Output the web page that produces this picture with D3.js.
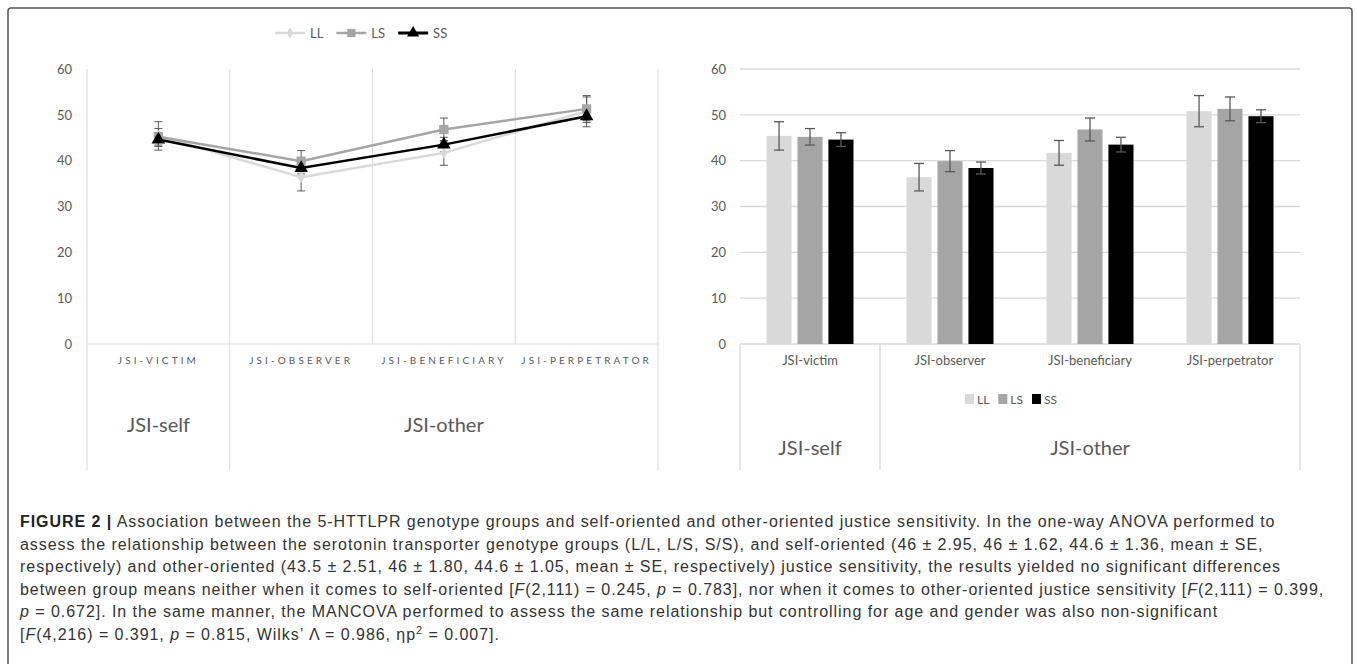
<!DOCTYPE html>
<html>
<head>
<meta charset="utf-8">
<script src="https://cdn.jsdelivr.net/npm/d3@7"></script>
<style>
  body { margin: 0; background: #fff; }
  svg { display: block; }
</style>
</head>
<body>
<script>
// categories and groups
const categories = ['JSI-victim', 'JSI-observer', 'JSI-beneficiary', 'JSI-perpetrator'];
const groups = ['LL', 'LS', 'SS'];
// group means per category
const meanLL = [45.4, 36.4, 41.7, 50.8];
const meanLS = [45.2, 39.9, 46.8, 51.3];
const meanSS = [44.6, 38.4, 43.5, 49.7];
// standard errors (error bar half length)
const seLL = [3.1, 3.0, 2.7, 3.4];
const seLS = [1.8, 2.3, 2.5, 2.6];
const seSS = [1.5, 1.3, 1.6, 1.4];
const yTicks = [0, 10, 20, 30, 40, 50, 60];
// upper level of the category axis
const dimNames = ['JSI-self', 'JSI-other'];
const dimFirst = ['JSI-victim', 'JSI-observer'];
const dimLast = ['JSI-victim', 'JSI-perpetrator'];

const colors = {LL: '#d9d9d9', LS: '#a5a5a5', SS: '#000000'};
const means = {LL: meanLL, LS: meanLS, SS: meanSS};
const ses = {LL: seLL, LS: seLS, SS: seSS};

const series = groups.map(g => ({
  key: g,
  values: categories.map((c, i) => ({cat: c, mean: means[g][i], se: ses[g][i]}))
}));

const width = 1357, height = 664;
const chartFont = 'Lato, "Open Sans", sans-serif';
const textGrey = '#595959';
const gridGrey = '#d9d9d9';

const svg = d3.select('body')
  .append('svg')
  .attr('width', width)
  .attr('height', height);

// outer frame
svg.append('rect')
  .attr('x', 8).attr('y', 8)
  .attr('width', 1344).attr('height', 670)
  .attr('rx', 3)
  .attr('fill', 'none')
  .attr('stroke', '#555')
  .attr('stroke-width', 1.5);

// shared y scale
const y = d3.scaleLinear().domain([0, 60]).range([344, 69]);
const bottomY = 470;

// ---------- left chart: lines ----------
const xL = d3.scaleBand().domain(categories).range([87, 658]);
const left = svg.append('g');

// vertical gridlines at band edges
const edgesL = categories.map(c => xL(c)).concat([xL.range()[1]]);
left.append('g')
  .selectAll('line')
  .data(edgesL)
  .join('line')
  .attr('x1', d => d).attr('x2', d => d)
  .attr('y1', y(60))
  .attr('y2', (d, i) => (i === 0 || i === 1 || i === edgesL.length - 1) ? bottomY : y(0))
  .attr('stroke', gridGrey);

// baseline
left.append('line')
  .attr('x1', xL.range()[0]).attr('x2', xL.range()[1])
  .attr('y1', y(0)).attr('y2', y(0))
  .attr('stroke', gridGrey);

// y axis labels
left.append('g')
  .attr('transform', `translate(${xL.range()[0]},0)`)
  .call(d3.axisLeft(y).tickValues(yTicks).tickSize(0).tickPadding(15))
  .call(g => g.select('.domain').remove())
  .selectAll('text')
  .style('font-family', chartFont)
  .style('font-size', '13px')
  .attr('fill', textGrey);

// category labels (spaced capitals)
left.append('g')
  .attr('transform', `translate(0,${y(0)})`)
  .call(d3.axisBottom(xL).tickSize(0).tickPadding(13).tickFormat(d => d.toUpperCase()))
  .call(g => g.select('.domain').remove())
  .selectAll('text')
  .style('font-family', chartFont)
  .style('font-size', '10px')
  .style('letter-spacing', '3.1px')
  .attr('fill', textGrey);

// upper level labels
left.append('g')
  .selectAll('text')
  .data(dimNames)
  .join('text')
  .attr('x', (d, i) => (xL(dimFirst[i]) + xL(dimLast[i]) + xL.bandwidth()) / 2)
  .attr('y', 432)
  .attr('text-anchor', 'middle')
  .style('font-family', chartFont)
  .style('font-size', '20px')
  .attr('fill', textGrey)
  .text(d => d);

// error bars
const capL = 4;
series.forEach(s => {
  const eb = left.append('g').attr('stroke', textGrey).attr('stroke-width', 1);
  s.values.forEach(v => {
    const cx = xL(v.cat) + xL.bandwidth() / 2;
    eb.append('line').attr('x1', cx).attr('x2', cx).attr('y1', y(v.mean - v.se)).attr('y2', y(v.mean + v.se));
    eb.append('line').attr('x1', cx - capL).attr('x2', cx + capL).attr('y1', y(v.mean + v.se)).attr('y2', y(v.mean + v.se));
    eb.append('line').attr('x1', cx - capL).attr('x2', cx + capL).attr('y1', y(v.mean - v.se)).attr('y2', y(v.mean - v.se));
  });
});

// lines and markers
const lineGen = d3.line()
  .x(d => xL(d.cat) + xL.bandwidth() / 2)
  .y(d => y(d.mean));

const markerSym = {LL: d3.symbolDiamond, LS: d3.symbolSquare, SS: d3.symbolTriangle};
const markerSize = {LL: 45, LS: 85, SS: 80};
const lineW = {LL: 2.5, LS: 2.5, SS: 2.5};

series.forEach(s => {
  left.append('path')
    .datum(s.values)
    .attr('d', lineGen)
    .attr('fill', 'none')
    .attr('stroke', colors[s.key])
    .attr('stroke-width', lineW[s.key]);
  left.append('g')
    .selectAll('path')
    .data(s.values)
    .join('path')
    .attr('transform', d => `translate(${xL(d.cat) + xL.bandwidth() / 2},${y(d.mean)})`)
    .attr('d', d3.symbol().type(markerSym[s.key]).size(markerSize[s.key]))
    .attr('fill', colors[s.key]);
});

// legend for line chart
const legL = left.append('g').attr('transform', 'translate(275,33)');
let lx = 0;
groups.forEach(g => {
  const item = legL.append('g').attr('transform', `translate(${lx},0)`);
  item.append('line')
    .attr('x1', 0).attr('x2', 30)
    .attr('stroke', colors[g])
    .attr('stroke-width', g === 'SS' ? 3 : 2.5);
  item.append('path')
    .attr('transform', 'translate(15,0)')
    .attr('d', d3.symbol().type(markerSym[g]).size(markerSize[g] * 0.8))
    .attr('fill', colors[g]);
  const t = item.append('text')
    .attr('x', 35).attr('y', 4.5)
    .style('font-family', chartFont)
    .style('font-size', '13px')
    .attr('fill', textGrey)
    .text(g);
  lx += 35 + t.node().getComputedTextLength() + 13;
});

// ---------- right chart: grouped bars ----------
const xR = d3.scaleBand().domain(categories).range([740, 1300]);
const groupW = 87;
const xInner = d3.scaleBand().domain(groups).range([0, groupW]).paddingInner(0.19);
const right = svg.append('g');

// horizontal gridlines
right.append('g')
  .selectAll('line')
  .data(yTicks)
  .join('line')
  .attr('x1', xR.range()[0]).attr('x2', xR.range()[1])
  .attr('y1', d => y(d)).attr('y2', d => y(d))
  .attr('stroke', gridGrey)
  .attr('stroke-width', 1.3);

// separators in the category axis
const sepR = [xR(dimFirst[0]), xR(dimFirst[1]), xR.range()[1]];
right.append('g')
  .selectAll('line')
  .data(sepR)
  .join('line')
  .attr('x1', d => d).attr('x2', d => d)
  .attr('y1', y(0)).attr('y2', bottomY)
  .attr('stroke', gridGrey)
  .attr('stroke-width', 1.3);

// y axis labels
right.append('g')
  .attr('transform', `translate(${xR.range()[0]},0)`)
  .call(d3.axisLeft(y).tickValues(yTicks).tickSize(0).tickPadding(14))
  .call(g => g.select('.domain').remove())
  .selectAll('text')
  .style('font-family', chartFont)
  .style('font-size', '13px')
  .attr('fill', textGrey);

// bars
const barG = right.append('g')
  .selectAll('g')
  .data(categories)
  .join('g')
  .attr('transform', c => `translate(${xR(c) + (xR.bandwidth() - groupW) / 2},0)`);

barG.selectAll('rect')
  .data((c, i) => groups.map(g => ({g: g, mean: means[g][i], se: ses[g][i]})))
  .join('rect')
  .attr('x', d => xInner(d.g))
  .attr('y', d => y(d.mean))
  .attr('width', xInner.bandwidth())
  .attr('height', d => y(0) - y(d.mean))
  .attr('fill', d => colors[d.g]);

// bar error bars
const capR = 5;
barG.selectAll('g.err')
  .data((c, i) => groups.map(g => ({g: g, mean: means[g][i], se: ses[g][i]})))
  .join('g')
  .attr('class', 'err')
  .attr('stroke', textGrey)
  .attr('stroke-width', 1.3)
  .each(function(d) {
    const cx = xInner(d.g) + xInner.bandwidth() / 2;
    const sel = d3.select(this);
    sel.append('line').attr('x1', cx).attr('x2', cx).attr('y1', y(d.mean - d.se)).attr('y2', y(d.mean + d.se));
    sel.append('line').attr('x1', cx - capR).attr('x2', cx + capR).attr('y1', y(d.mean + d.se)).attr('y2', y(d.mean + d.se));
    sel.append('line').attr('x1', cx - capR).attr('x2', cx + capR).attr('y1', y(d.mean - d.se)).attr('y2', y(d.mean - d.se));
  });

// category labels
right.append('g')
  .attr('transform', `translate(0,${y(0)})`)
  .call(d3.axisBottom(xR).tickSize(0).tickPadding(12))
  .call(g => g.select('.domain').remove())
  .selectAll('text')
  .style('font-family', chartFont)
  .style('font-size', '13px')
  .attr('fill', textGrey);

// upper level labels
right.append('g')
  .selectAll('text')
  .data(dimNames)
  .join('text')
  .attr('x', (d, i) => (xR(dimFirst[i]) + xR(dimLast[i]) + xR.bandwidth()) / 2)
  .attr('y', 455)
  .attr('text-anchor', 'middle')
  .style('font-family', chartFont)
  .style('font-size', '20px')
  .attr('fill', textGrey)
  .text(d => d);

// legend for bar chart
const legR = right.append('g').attr('transform', 'translate(965,399)');
let rx = 0;
groups.forEach(g => {
  const item = legR.append('g').attr('transform', `translate(${rx},0)`);
  item.append('rect')
    .attr('x', 0).attr('y', -5)
    .attr('width', 9).attr('height', 10)
    .attr('fill', colors[g]);
  const t = item.append('text')
    .attr('x', 12).attr('y', 4.5)
    .style('font-family', chartFont)
    .style('font-size', '12px')
    .attr('fill', textGrey)
    .text(g);
  rx += 12 + t.node().getComputedTextLength() + 9;
});

// ---------- caption ----------
const capLines = [
  [['FIGURE 2 |', 'b'], [' Association between the 5-HTTLPR genotype groups and self-oriented and other-oriented justice sensitivity. In the one-way ANOVA performed to', '']],
  [['assess the relationship between the serotonin transporter genotype groups (L/L, L/S, S/S), and self-oriented (46 ± 2.95, 46 ± 1.62, 44.6 ± 1.36, mean ± SE,', '']],
  [['respectively) and other-oriented (43.5 ± 2.51, 46 ± 1.80, 44.6 ± 1.05, mean ± SE, respectively) justice sensitivity, the results yielded no significant differences', '']],
  [['between group means neither when it comes to self-oriented [', ''], ['F', 'i'], ['(2,111) = 0.245, ', ''], ['p', 'i'], [' = 0.783], nor when it comes to other-oriented justice sensitivity [', ''], ['F', 'i'], ['(2,111) = 0.399,', '']],
  [['p', 'i'], [' = 0.672]. In the same manner, the MANCOVA performed to assess the same relationship but controlling for age and gender was also non-significant', '']],
  [['[', ''], ['F', 'i'], ['(4,216) = 0.391, ', ''], ['p', 'i'], [' = 0.815, Wilks\u2019 \u039B = 0.986, \u03B7p', ''], ['2', 's'], [' = 0.007].', '']]
];

const cap = svg.append('g')
  .style('font-family', '"Liberation Sans", Arial, sans-serif')
  .style('font-size', '16px')
  .style('letter-spacing', '0.95px')
  .attr('fill', '#333');

capLines.forEach((segs, i) => {
  const t = cap.append('text')
    .attr('x', 20)
    .attr('y', 527 + i * 22.5);
  segs.forEach((s, j) => {
    const sp = t.append('tspan').text(s[0]);
    if (s[1] === 'b') sp.style('font-weight', 'bold').attr('fill', '#222');
    if (s[1] === 'i') sp.style('font-style', 'italic');
    if (s[1] === 's') sp.attr('dy', -6).style('font-size', '11px');
    if (j > 0 && segs[j - 1][1] === 's') sp.attr('dy', 6);
  });
});
</script>
</body>
</html>
